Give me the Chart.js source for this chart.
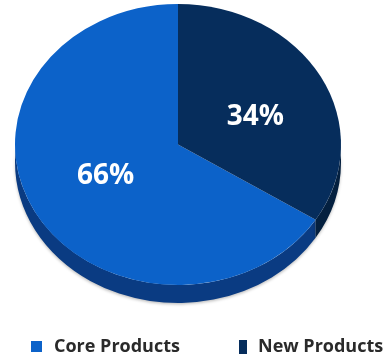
<!DOCTYPE html>
<html>
<head>
<meta charset="utf-8">
<script src="https://cdn.jsdelivr.net/npm/chart.js@4/dist/chart.umd.min.js"></script>
<style>
  html, body { margin: 0; padding: 0; background: #ffffff; }
  #wrap { width: 391px; height: 360px; }
</style>
</head>
<body>
<div id="wrap"><canvas id="pie" width="391" height="360"></canvas></div>
<script>
// Revenue split by product line
const categories = ['Core Products', 'New Products'];
const shares = [66, 34];

// Top-face and side-wall colours for each slice
const topColors = ['#0c62c9', '#062d5c'];
const sideColors = ['#0a3b82', '#04203f'];

// Tilted-disc geometry (screen pixels)
const DISC = { cx: 178, cy: 144.5, rx: 163, ry: 140.5, depth: 18 };
// Small perspective nudges for the percentage labels
const LABEL_NUDGE = [[-1, -2], [6, 6]];

const total = shares.reduce((a, b) => a + b, 0);

// Squash the round pie into an ellipse and give it a visible rim
const tiltedPie = {
  id: 'tiltedPie',
  beforeDatasetsDraw(chart) {
    const ctx = chart.ctx;
    const meta = chart.getDatasetMeta(0);
    const first = meta.data[0];
    const x = first.x, y = first.y, R = first.outerRadius;
    ctx.save();
    ctx.translate(DISC.cx, DISC.cy);
    ctx.scale(DISC.rx / R, DISC.ry / R);
    ctx.translate(-x, -y);
    const d = DISC.depth * R / DISC.ry;
    meta.data.forEach((arc, i) => {
      const s = arc.startAngle, e = arc.endAngle;
      for (let k = -1; k <= 1; k++) {
        const lo = Math.max(s + 2 * Math.PI * k, 0);
        const hi = Math.min(e + 2 * Math.PI * k, Math.PI);
        if (hi > lo) {
          ctx.save();
          ctx.shadowColor = 'rgba(0,0,0,0.25)';
          ctx.shadowBlur = 3;
          ctx.shadowOffsetY = 1.5;
          ctx.beginPath();
          ctx.arc(x, y + d, R, lo, hi);
          ctx.arc(x, y, R, hi, lo, true);
          ctx.closePath();
          ctx.fillStyle = sideColors[i];
          ctx.fill();
          ctx.restore();
        }
      }
    });
  },
  afterDatasetsDraw(chart) {
    const ctx = chart.ctx;
    ctx.restore();
    const meta = chart.getDatasetMeta(0);
    const first = meta.data[0];
    const x = first.x, y = first.y, R = first.outerRadius;
    ctx.save();
    ctx.fillStyle = '#ffffff';
    ctx.font = 'bold 28px "Open Sans", sans-serif';
    ctx.textAlign = 'center';
    ctx.textBaseline = 'middle';
    meta.data.forEach((arc, i) => {
      const p = arc.tooltipPosition();
      const X = DISC.cx + (p.x - x) * DISC.rx / R + LABEL_NUDGE[i][0];
      const Y = DISC.cy + (p.y - y) * DISC.ry / R + LABEL_NUDGE[i][1];
      ctx.fillText(Math.round(shares[i] / total * 100) + '%', X, Y);
    });
    ctx.restore();
  }
};

// Legend row under the disc
const bottomLegend = {
  id: 'bottomLegend',
  afterDraw(chart) {
    const ctx = chart.ctx;
    const items = [
      { box: [31, 341, 11, 11], textX: 54 },
      { box: [239, 340, 8, 14], textX: 258 }
    ];
    ctx.save();
    ctx.font = 'bold 18px "Open Sans", sans-serif';
    ctx.textBaseline = 'middle';
    ctx.textAlign = 'left';
    items.forEach((it, i) => {
      ctx.fillStyle = topColors[i];
      ctx.fillRect(it.box[0], it.box[1], it.box[2], it.box[3]);
      ctx.fillStyle = '#2a2a2a';
      ctx.fillText(categories[i], it.textX, 347);
    });
    ctx.restore();
  }
};

new Chart(document.getElementById('pie'), {
  type: 'pie',
  data: {
    labels: categories,
    datasets: [{
      data: shares,
      backgroundColor: topColors,
      borderWidth: 0,
      clip: false
    }]
  },
  options: {
    responsive: false,
    animation: false,
    rotation: 360 * shares[1] / total,
    plugins: {
      legend: { display: false },
      tooltip: { enabled: false }
    }
  },
  plugins: [tiltedPie, bottomLegend]
});
</script>
</body>
</html>
